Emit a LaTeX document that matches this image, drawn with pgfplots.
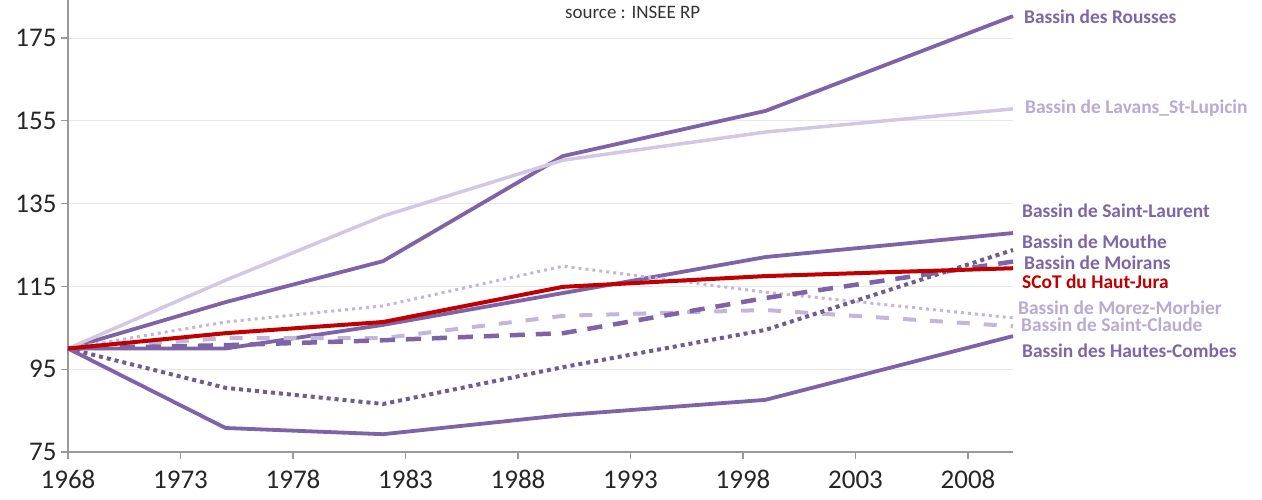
\documentclass[border=0pt]{standalone}
\usepackage{pgfplots}
\pgfplotsset{compat=1.18}
\usepackage{fontspec}
\setmainfont{Carlito}
\definecolor{pdark}{HTML}{7E63A6}
\definecolor{pdot}{HTML}{6E5D90}
\definecolor{plav}{HTML}{D3C8E3}
\definecolor{plight}{HTML}{C3B6D9}
\definecolor{labl}{HTML}{7D66A6}
\definecolor{lablight}{HTML}{B8AAD0}
\definecolor{scotred}{HTML}{C00000}
\definecolor{gridc}{HTML}{E8E8E8}
\definecolor{axc}{HTML}{999999}
\begin{document}
\begin{tikzpicture}
\begin{axis}[
  name=ax,
  scale only axis,
  width=945pt, height=452pt,
  xmin=1968, xmax=2010,
  ymin=75, ymax=184.2,
  axis x line*=bottom, axis y line*=left,
  axis line style={axc, line width=1.2pt},
  xtick={1968,1973,...,2008},
  ytick={75,95,...,175},
  xticklabel style={/pgf/number format/1000 sep=, yshift=-8pt},
  yticklabel style={xshift=-1pt},
  /pgf/number format/assume math mode=true,
  tick label style={font=\fontsize{27}{27}\selectfont, black!85},
  tick style={axc, line width=1.2pt},
  tick align=outside,
  major tick length=7pt,
  ymajorgrids,
  grid style={gridc, line width=1pt},
  clip=false,
  line join=round,
]
% Bassin des Rousses
\addplot[pdark, line width=3.8pt] coordinates {(1968,100)(1975,111.2)(1982,121.1)(1990,146.5)(1999,157.4)(2010,180.3)};
% Lavans
\addplot[plav, line width=3.5pt] coordinates {(1968,100)(1975,116.5)(1982,132)(1990,145.5)(1999,152.3)(2010,157.9)};
% Saint-Laurent
\addplot[pdark, line width=3.8pt] coordinates {(1968,100)(1975,100.0)(1982,105.7)(1990,113.4)(1999,122.1)(2010,127.9)};
% Morez-Morbier (light dotted)
\addplot[plight, line width=3pt, dash pattern=on 3pt off 4pt] coordinates {(1968,100)(1975,106.4)(1982,110.3)(1990,119.9)(1999,113.6)(2010,107.4)};
% Saint-Claude (light dashed)
\addplot[plight, line width=4pt, dash pattern=on 13pt off 14pt] coordinates {(1968,100)(1975,102.5)(1982,102.5)(1990,107.9)(1999,109.3)(2010,105.4)};
% Mouthe (dark dotted)
\addplot[pdot, line width=4pt, dash pattern=on 4pt off 4pt] coordinates {(1968,100)(1975,90.5)(1982,86.6)(1990,95.5)(1999,104.5)(2010,123.8)};
% Moirans (dark dashed)
\addplot[pdark, line width=4.5pt, dash pattern=on 15pt off 11pt] coordinates {(1968,100)(1975,100.8)(1982,102)(1990,103.7)(1999,112.2)(2010,121)};
% Hautes-Combes
\addplot[pdark, line width=3.8pt] coordinates {(1968,100)(1975,80.8)(1982,79.3)(1990,83.9)(1999,87.6)(2010,103)};
% SCoT
\addplot[scotred, line width=4pt] coordinates {(1968,100)(1975,103.7)(1982,106.4)(1990,114.9)(1999,117.5)(2010,119.4)};

\begin{scope}[every node/.style={anchor=west, inner sep=0pt, font=\fontsize{19.4}{19.4}\selectfont\bfseries}]
\node[labl] at (axis cs:2010,180.07) [xshift=11pt] {Bassin des Rousses};
\node[lablight] at (axis cs:2010,158.1) [xshift=12pt] {Bassin de Lavans\_St-Lupicin};
\node[labl] at (axis cs:2010,133.2) [xshift=9pt] {Bassin de Saint-Laurent};
\node[labl] at (axis cs:2010,125.7) [xshift=9pt] {Bassin de Mouthe};
\node[labl] at (axis cs:2010,120.65) [xshift=11pt] {Bassin de Moirans};
\node[scotred] at (axis cs:2010,116.06) [xshift=9pt] {SCoT du Haut-Jura};
\node[lablight] at (axis cs:2010,109.8) [xshift=5pt] {Bassin de Morez-Morbier};
\node[lablight] at (axis cs:2010,105.7) [xshift=8pt] {Bassin de Saint-Claude};
\node[labl] at (axis cs:2010,99.4) [xshift=9pt] {Bassin des Hautes-Combes};
\end{scope}
\node[anchor=center, font=\fontsize{19}{19}\selectfont, black!80] at (axis cs:1993.1,181.3) {source : INSEE RP};
\end{axis}
\pgfresetboundingbox
\path[use as bounding box] ([shift={(-68pt,-48pt)}]ax.south west) rectangle ([shift={(249pt,0pt)}]ax.north east);
\end{tikzpicture}
\end{document}
